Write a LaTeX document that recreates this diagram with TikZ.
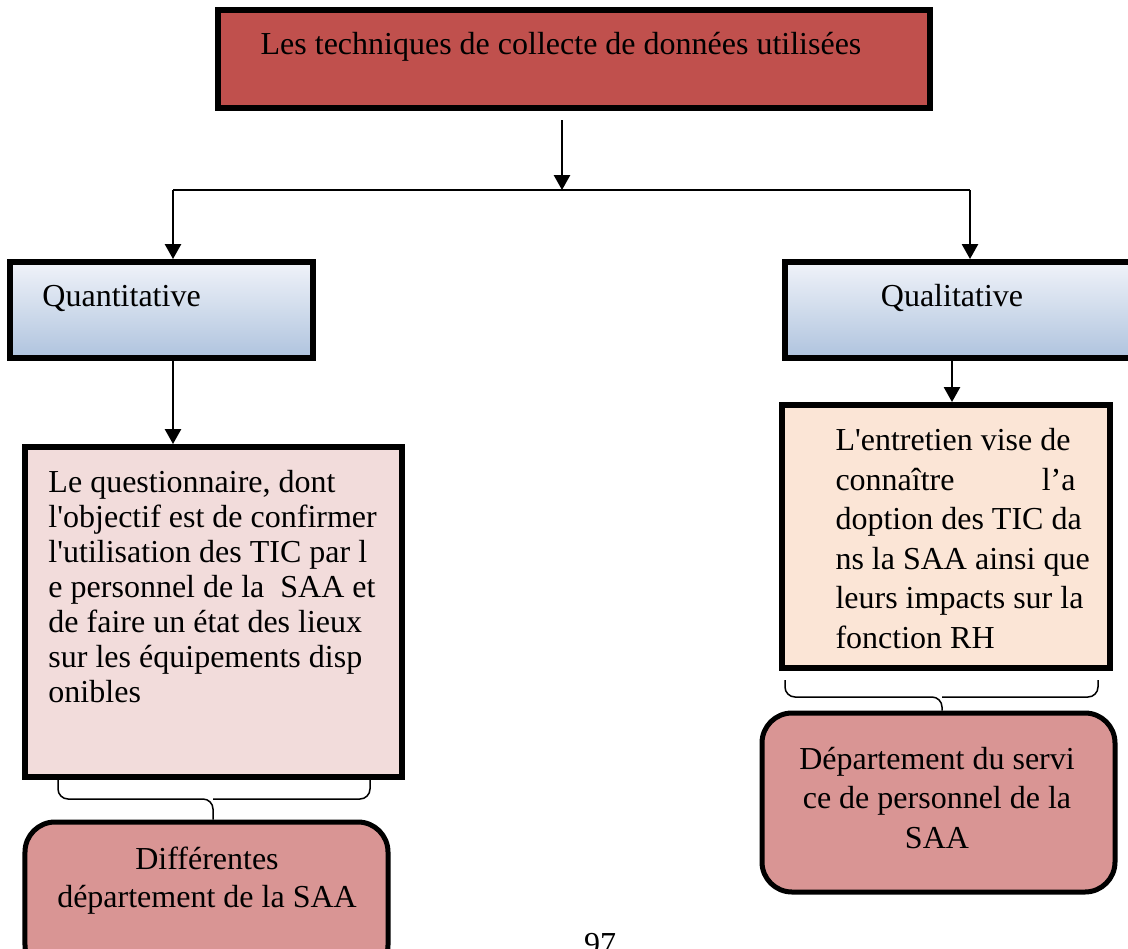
\documentclass[tikz,border=0pt]{standalone}
\usepackage{fontspec}
\setmainfont{Liberation Serif}
\usepackage{tikz}
\usetikzlibrary{arrows.meta,positioning}

\definecolor{titlered}{HTML}{C0504D}
\definecolor{deptred}{HTML}{D99594}
\definecolor{pinkbox}{HTML}{F2DCDB}
\definecolor{peachbox}{HTML}{FBE5D6}
\definecolor{gradtop}{HTML}{F0F3F9}
\definecolor{gradblue}{HTML}{AFC3DE}

\tikzset{
  thickbox/.style={draw, rectangle, line width=2.4pt, inner sep=0pt},
  typebox/.style={thickbox, top color=gradtop, bottom color=gradblue, minimum height=38.4pt},
  deptbox/.style={draw, rectangle, line width=2pt, rounded corners=12pt, fill=deptred, inner sep=0pt},
  link/.style={line width=0.8pt, -{Triangle[length=6pt,width=6.5pt]}},
  bracket/.style={line width=0.6pt, rounded corners=4pt},
  txt/.style={font=\fontsize{12.8}{14}\selectfont, inner sep=0pt}
}

\begin{document}
\begin{tikzpicture}[x=0.4pt,y=-0.4pt]
				\useasboundingbox (0,0) rectangle (1128,948);
				\clip (0,0) rectangle (1128,948);
				% titre
				\node[thickbox, fill=titlered, minimum width=284.8pt, minimum height=39.2pt] (tech) at (574,59) {};
				\node[txt] (techtxt) at (561,47) {Les techniques de collecte de données utilisées};
				\coordinate (techout) at (562,120);
				\coordinate (split) at (562,190);
				\coordinate (splitl) at (173,190);
				\coordinate (splitr) at (970,190);
				\draw[link] (techout) -- (split);
				\draw[line width=0.8pt] (splitl) -- (splitr);
				% deux approches
				\node[typebox, minimum width=121.2pt] (quant) at (161.5,310) {};
				\node[txt, anchor=west] (quanttxt) at (42,298) {Quantitative};
				\node[typebox, minimum width=140pt] (qual) at (960,310) {};
				\node[txt] (qualtxt) at (952,298) {Qualitative};
				\draw[link] (splitl) -- (splitl |- quant.north);
				\draw[link] (splitr) -- (splitr |- qual.north);
				% questionnaire
				\node[thickbox, fill=pinkbox, minimum width=150.8pt, minimum height=132pt] (quest) at (213.5,612) {};
				\node[txt, anchor=north west, align=left] (questtxt) at (48,470)
					{Le questionnaire, dont\\
					 l\textquotesingle objectif est de confirmer\\
					 l\textquotesingle utilisation des TIC par l\\
					 e personnel de la\ \ SAA et\\
					 de faire un état des lieux\\
					 sur les équipements disp\\
					 onibles};
				\draw[link] (quant.south -| splitl) -- (quest.north -| splitl);
				% entretien
				\coordinate (qualout) at (952,358);
				\node[thickbox, fill=peachbox, minimum width=131.2pt, minimum height=105.2pt] (entret) at (946,536.5) {};
				\node[txt, anchor=north west, align=left, font=\fontsize{12.8}{15.8}\selectfont] (entrettxt) at (835,428)
					{L\textquotesingle entretien vise de\\
					 \makebox[96pt][l]{connaître\hfill l’a}\\
					 doption des TIC da\\
					 ns la SAA ainsi que\\
					 leurs impacts sur la\\
					 fonction RH};
				\draw[link] (qual.south -| qualout) -- (entret.north -| qualout);
				% departements
				\node[deptbox, minimum width=145.2pt, minimum height=61.2pt] (deptq) at (206.5,898.5) {};
				\node[txt, align=center, font=\fontsize{12.8}{15.2}\selectfont] (deptqtxt) at (207,881)
					{Différentes\\département de la SAA};
				\node[deptbox, minimum width=141.2pt, minimum height=71.6pt] (deptl) at (938.5,802.5) {};
				\node[txt, align=center, font=\fontsize{12.8}{15.8}\selectfont] (deptltxt) at (937,798)
					{Département du servi\\ce de personnel de la\\SAA};
				% accolades
				\coordinate (qbl) at (58,778);
				\coordinate (qbr) at (370,778);
				\coordinate (qmid) at (213,799);
				\coordinate (lbl) at (785,680);
				\coordinate (lbr) at (1098,680);
				\coordinate (lmid) at (942,697);
				\draw[bracket] (qbl) |- (qmid) -- (qmid |- deptq.north);
				\draw[bracket] (qbr) |- (qmid);
				\draw[bracket] (lbl) |- (lmid) -- (lmid |- deptl.north);
				\draw[bracket] (lbr) |- (lmid);
				\node[txt] (pagenum) at (600,944) {97};
			\end{tikzpicture}
\end{document}
